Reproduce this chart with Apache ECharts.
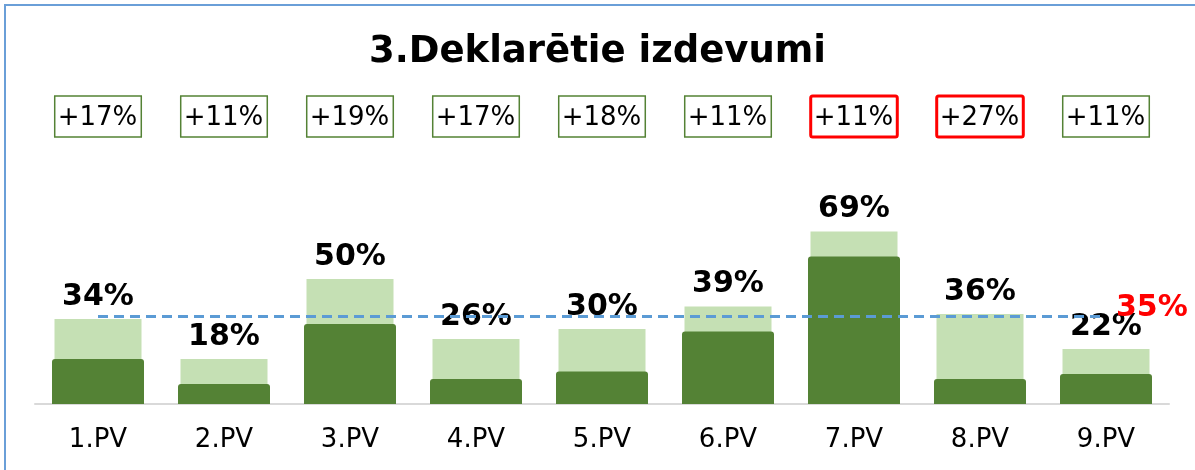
<!DOCTYPE html>
<html>
<head>
<meta charset="utf-8">
<script src="https://cdn.jsdelivr.net/npm/echarts@6/dist/echarts.min.js"></script>
<style>
  html, body { margin: 0; padding: 0; background: #fff; }
  #chart { width: 1195px; height: 470px; }
</style>
</head>
<body>
<div id="chart"></div>
<script>
// dati no attēla
const categories = ['1.PV', '2.PV', '3.PV', '4.PV', '5.PV', '6.PV', '7.PV', '8.PV', '9.PV'];
const totalPct = [34, 18, 50, 26, 30, 39, 69, 36, 22];
const darkPct = [18, 8, 32, 10, 13, 29, 59, 10, 12];
const growthPct = [17, 11, 19, 17, 18, 11, 11, 27, 11];
const flagged = [false, false, false, false, false, false, true, true, false];
const averagePct = 35;

const font = 'DejaVu Sans';
const chart = echarts.init(document.getElementById('chart'));

const option = {
  animation: false,
  title: {
    text: '3.Deklarētie izdevumi',
    left: 'center',
    top: 29,
    textStyle: { fontFamily: font, fontSize: 37, fontWeight: 'bold', color: '#000' }
  },
  graphic: [{
    type: 'rect',
    shape: { x: 5, y: 5, width: 1210, height: 490 },
    style: { fill: 'none', stroke: '#6A9FD8', lineWidth: 2 },
    silent: true
  }],
  grid: { left: 35, right: 26, top: 154, bottom: 66 },
  xAxis: [
    {
      type: 'category',
      data: categories,
      axisLine: { lineStyle: { color: '#D9D9D9', width: 2 } },
      axisTick: { show: false },
      axisLabel: { fontFamily: font, fontSize: 26, color: '#000', margin: 23 }
    },
    {
      type: 'category',
      data: categories,
      show: false
    },
    {
      type: 'category',
      position: 'top',
      data: growthPct.map(v => '+' + v + '%'),
      axisLine: { show: false },
      axisTick: { show: false },
      axisLabel: {
        margin: 17,
        interval: 0,
        formatter: (val, i) => (flagged[i] ? '{r|' : '{g|') + val + '}',
        rich: {
          g: {
            fontFamily: font, fontSize: 26, color: '#000',
            borderColor: '#548235', borderWidth: 1.5,
            padding: [9, 4, 6, 3]
          },
          r: {
            fontFamily: font, fontSize: 26, color: '#000',
            borderColor: '#FF0000', borderWidth: 3, borderRadius: 2,
            padding: [9, 4, 6, 3]
          }
        }
      }
    }
  ],
  yAxis: {
    type: 'value',
    min: 0,
    max: 100,
    show: false
  },
  series: [
    {
      name: 'kopā',
      type: 'bar',
      xAxisIndex: 0,
      data: totalPct,
      barWidth: 87,
      itemStyle: { color: '#C5E0B4' },
      label: {
        show: true,
        position: 'top',
        distance: 7,
        formatter: '{c}%',
        fontFamily: font,
        fontSize: 30,
        fontWeight: 'bold',
        color: '#000'
      },
      markLine: {
        silent: true,
        symbol: 'none',
        lineStyle: { color: '#5B9BD5', width: 3, type: [10, 6] },
        label: {
          show: true,
          position: 'end',
          distance: 10,
          formatter: '{v|' + averagePct + '%}\n{s|}',
          rich: {
            v: { fontFamily: font, fontSize: 30, fontWeight: 'bold', color: '#FF0000', lineHeight: 32 },
            s: { height: 16, lineHeight: 16 }
          }
        },
        data: [[
          { xAxis: 0, yAxis: averagePct },
          { xAxis: categories.length - 1, yAxis: averagePct }
        ]]
      },
      z: 2
    },
    {
      name: 'daļa',
      type: 'bar',
      xAxisIndex: 1,
      data: darkPct,
      barWidth: 92,
      itemStyle: { color: '#548235', borderRadius: [3, 3, 0, 0] },
      z: 3
    }
  ]
};

chart.setOption(option);
</script>
</body>
</html>
